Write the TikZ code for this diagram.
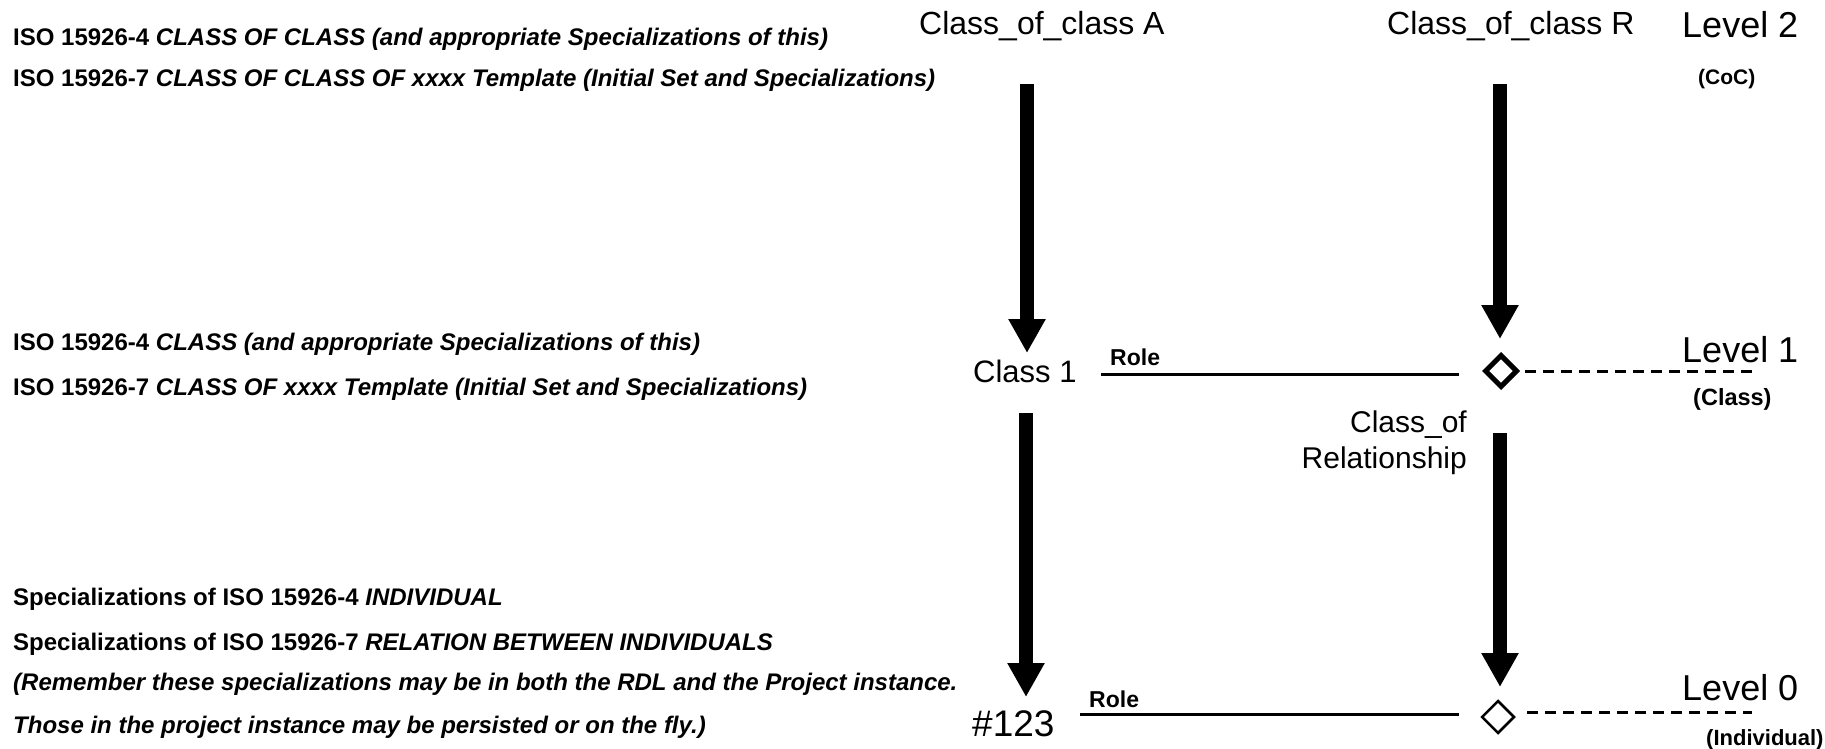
\documentclass[tikz,border=0pt]{standalone}
\usepackage{fontspec}
\setmainfont{Liberation Sans}
\usetikzlibrary{arrows.meta,shapes.geometric}
\begin{document}
\begin{tikzpicture}[x=1pt,y=-1pt,
  note/.style={anchor=base west, inner sep=0, font=\fontsize{24}{28}\selectfont\bfseries},
  lbl/.style={anchor=base west, inner sep=0, font=\fontsize{30}{36}\selectfont},
  toplbl/.style={anchor=base west, inner sep=0, font=\fontsize{32}{38}\selectfont},
  levellbl/.style={anchor=base west, inner sep=0, font=\fontsize{36}{42}\selectfont},
  levelsub/.style={anchor=base west, inner sep=0, font=\fontsize{22}{26}\selectfont\bfseries},
  rolelbl/.style={anchor=base west, inner sep=0, font=\fontsize{23}{27}\selectfont\bfseries},
  instof/.style={line width=14pt, -{Triangle[length=34pt,width=35pt]}},
  roleline/.style={line width=3pt},
  levelline/.style={line width=3pt, dash pattern=on 11pt off 7pt},
  relnode/.style={diamond, draw, inner sep=0pt, minimum width=33pt, minimum height=33pt, aspect=1},
]
\useasboundingbox (0,0) rectangle (1825,749);

% explanatory notes on the left
\node[note] (n1) at (13,46)  {ISO 15926-4 \textit{CLASS OF CLASS (and appropriate Specializations of this)}};
\node[note] (n2) at (13,87)  {ISO 15926-7 \textit{CLASS OF CLASS OF xxxx Template (Initial Set and Specializations)}};
\node[note] (n3) at (13,350) {ISO 15926-4 \textit{CLASS (and appropriate Specializations of this)}};
\node[note] (n4) at (13,395) {ISO 15926-7 \textit{CLASS OF xxxx Template (Initial Set and Specializations)}};
\node[note] (n5) at (13,605) {Specializations of ISO 15926-4 \textit{INDIVIDUAL}};
\node[note] (n6) at (13,650) {Specializations of ISO 15926-7 \textit{RELATION BETWEEN INDIVIDUALS}};
\node[note] (n7) at (13,690) {\textit{(Remember these specializations may be in both the RDL and the Project instance.}};
\node[note] (n8) at (13,733) {\textit{Those in the project instance may be persisted or on the fly.)}};

% level 2
\node[toplbl] (cocA) at (919,35)  {Class\_of\_class A};
\node[toplbl] (cocR) at (1387,35) {Class\_of\_class R};
\node[levellbl] (lev2) at (1682,38) {Level 2};
\node[levelsub, font=\fontsize{21}{25}\selectfont\bfseries] (lev2s) at (1698,85) {(CoC)};

% level 1
\node[lbl, font=\fontsize{31}{37}\selectfont] (cls1) at (973,382) {Class 1};
\node[rolelbl] (role1) at (1110,365) {Role};
\node[relnode, line width=5pt] (rel1) at (1501,371) {};
\node[lbl, anchor=base east] (reln1) at (1467,432) {Class\_of};
\node[lbl, anchor=base east] (reln2) at (1467,468) {Relationship};
\node[levellbl] (lev1) at (1682,362) {Level 1};
\node[levelsub, font=\fontsize{23.5}{28}\selectfont\bfseries] (lev1s) at (1693,405) {(Class)};

% level 0
\node[lbl, font=\fontsize{37}{44}\selectfont] (ind) at (972,736) {\#123};
\node[rolelbl] (role0) at (1089,707) {Role};
\node[relnode, line width=2.5pt] (rel0) at (1498,717) {};
\node[levellbl] (lev0) at (1682,700) {Level 0};
\node[levelsub] (lev0s) at (1706,745) {(Individual)};

% connector end points
\coordinate (a1s) at (1027,84);  \coordinate (a1e) at (1027,353);
\coordinate (r1s) at (1500,84);  \coordinate (r1e) at (1500,339);
\coordinate (a2s) at (1026,413); \coordinate (a2e) at (1026,697);
\coordinate (r2s) at (1500,433); \coordinate (r2e) at (1500,687);
\coordinate (l1s) at (1101,374); \coordinate (l1e) at (1459,374);
\coordinate (l0s) at (1080,714); \coordinate (l0e) at (1459,714);
\coordinate (d1e) at (1755,371);
\coordinate (d0s) at (1527,712); \coordinate (d0e) at (1752,712);

% classification arrows
\draw[instof] (a1s) -- (a1e);
\draw[instof] (r1s) -- (r1e);
\draw[instof] (a2s) -- (a2e);
\draw[instof] (r2s) -- (r2e);

% role lines and level lines
\draw[roleline] (l1s) -- (l1e);
\draw[roleline] (l0s) -- (l0e);
\draw[levelline] ([xshift=5pt]rel1.east) -- (d1e);
\draw[levelline] (d0s) -- (d0e);
\end{tikzpicture}
\end{document}
